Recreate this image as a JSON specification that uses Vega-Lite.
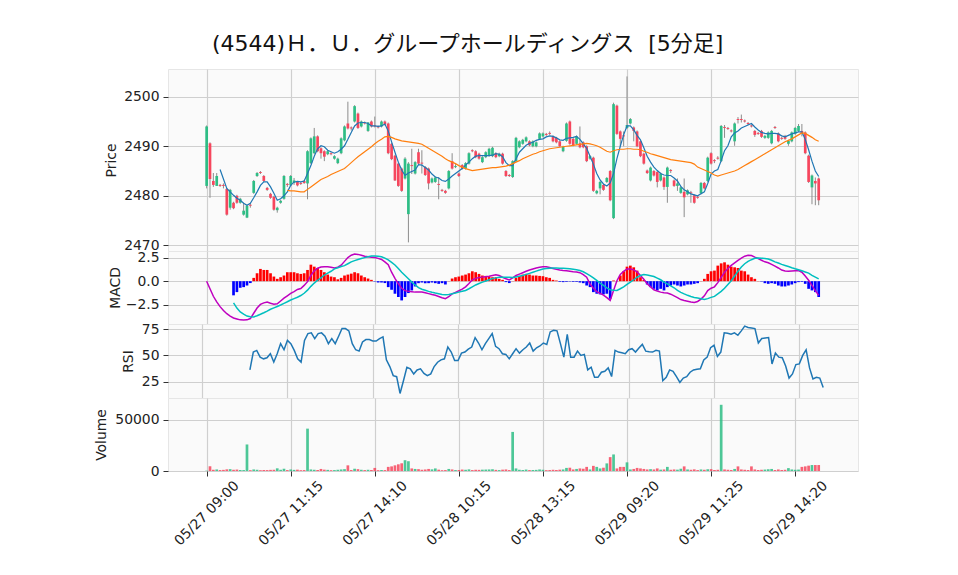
{
"$schema": "https://vega.github.io/schema/vega-lite/v6.json",
"background": "white",
"padding": {"left": 94, "top": 32, "right": 0, "bottom": 0},
"title": {"text": "(4544)Ｈ．Ｕ．グループホールディングス \u00a0[5分足]", "font": "DejaVu Sans, Noto Sans CJK JP", "fontSize": 22, "fontWeight": "normal", "color": "#111", "anchor": "start", "frame": "group", "dx": 44, "offset": 13},
"config": {
  "view": {"fill": "#fafafa", "stroke": "#e6e6e6"},
  "axis": {"labelFont": "DejaVu Sans", "titleFont": "DejaVu Sans", "labelFontSize": 13.9, "titleFontSize": 13.9, "titleFontWeight": "normal", "labelColor": "#222", "titleColor": "#222", "gridColor": "#cfcfcf", "gridWidth": 1.2, "domain": false, "tickColor": "#333", "tickSize": 5, "labelPadding": 4, "titlePadding": 4, "labelOverlap": false}
},
"datasets": {"d": [
{"i":0,"o":2482,"h":2494.2,"l":2481.5,"c":2494,"v":300,"macd":0.0},
{"i":1,"o":2490.6,"h":2490.8,"l":2479.6,"c":2483.4,"v":4600,"macd":-0.8},
{"i":2,"o":2483,"h":2484.6,"l":2481.8,"c":2482.2,"v":1200,"macd":-1.6},
{"i":3,"o":2482,"h":2484.6,"l":2482,"c":2484,"v":1500,"macd":-2.2},
{"i":4,"o":2482.2,"h":2482.4,"l":2481.8,"c":2482,"v":900,"ma5":2485.3,"macd":-2.7},
{"i":5,"o":2482.2,"h":2482.5,"l":2481.5,"c":2482,"v":1100,"ma5":2483.4,"macd":-3.1},
{"i":6,"o":2481.4,"h":2481.6,"l":2476,"c":2476.2,"v":1600,"ma5":2481.5,"macd":-3.45},
{"i":7,"o":2477.6,"h":2481.4,"l":2477.2,"c":2481.2,"v":1800,"ma5":2480.8,"macd":-3.7},
{"i":8,"o":2478.6,"h":2478.8,"l":2477.3,"c":2477.5,"v":1200,"ma5":2480.1,"macd":-3.9,"signal":-2.3,"hist":-1.5},
{"i":9,"o":2480,"h":2480.2,"l":2478.4,"c":2478.6,"v":1400,"ma5":2479.5,"macd":-4.0,"signal":-2.85,"hist":-1.16},
{"i":10,"o":2478.6,"h":2479.6,"l":2478.4,"c":2479.4,"v":1000,"ma5":2479.1,"macd":-4.1,"signal":-3.26,"hist":-0.7},
{"i":11,"o":2476.2,"h":2478.6,"l":2476,"c":2477,"v":900,"ma5":2478.5,"macd":-4.12,"signal":-3.5,"hist":-0.63},
{"i":12,"o":2475.6,"h":2478.2,"l":2475.5,"c":2478,"v":25800,"ma5":2478.1,"macd":-4.1,"signal":-3.7,"hist":-0.46},
{"i":13,"o":2478.2,"h":2478.6,"l":2477.6,"c":2478,"v":800,"ma5":2478.5,"macd":-3.96,"signal":-3.77,"hist":-0.2},
{"i":14,"o":2480.6,"h":2483.2,"l":2480.4,"c":2483,"v":1500,"ma5":2479.6,"macd":-3.4,"signal":-3.79,"hist":0.35,"rsi":36.3},
{"i":15,"o":2484,"h":2484.8,"l":2483.8,"c":2484.6,"v":1200,"ma5":2480.8,"macd":-2.85,"signal":-3.66,"hist":0.84,"rsi":53.2},
{"i":16,"o":2484.8,"h":2485,"l":2484.4,"c":2484.6,"v":800,"ma5":2482.1,"macd":-2.46,"signal":-3.51,"hist":1.3,"rsi":54.8},
{"i":17,"o":2484,"h":2484.2,"l":2482.8,"c":2483,"v":1000,"ma5":2482.8,"macd":-2.3,"signal":-3.35,"hist":1.19,"rsi":48.4},
{"i":18,"o":2481.6,"h":2481.8,"l":2481,"c":2481.2,"v":900,"ma5":2482.8,"macd":-2.21,"signal":-3.18,"hist":1.19,"rsi":46.8},
{"i":19,"o":2480.4,"h":2480.6,"l":2479.4,"c":2479.6,"v":1100,"ma5":2481.8,"macd":-2.34,"signal":-2.98,"hist":0.84,"rsi":47.8},
{"i":20,"o":2479.8,"h":2480,"l":2477,"c":2477.2,"v":1200,"ma5":2480.5,"macd":-2.44,"signal":-2.83,"hist":0.49,"rsi":51.6},
{"i":21,"o":2477.1,"h":2477.8,"l":2476.6,"c":2477.6,"v":2600,"ma5":2479.1,"macd":-2.4,"signal":-2.68,"hist":0.25,"rsi":43.7},
{"i":22,"o":2478.6,"h":2479.2,"l":2478.4,"c":2479,"v":1200,"ma5":2479.4,"macd":-2.1,"signal":-2.52,"hist":0.42,"rsi":51.6},
{"i":23,"o":2479.4,"h":2484.2,"l":2479.2,"c":2484,"v":2200,"ma5":2480.0,"macd":-1.8,"signal":-2.35,"hist":0.6,"rsi":61.2},
{"i":24,"o":2482.4,"h":2482.6,"l":2481.8,"c":2482.2,"v":900,"ma5":2480.8,"ma25":2481.1,"macd":-1.55,"signal":-2.18,"hist":0.95,"rsi":55.4},
{"i":25,"o":2482.1,"h":2484.2,"l":2482,"c":2484,"v":1500,"ma5":2482.1,"ma25":2481.0,"macd":-1.3,"signal":-2.0,"hist":0.95,"rsi":64.3},
{"i":26,"o":2482.6,"h":2483.6,"l":2482.2,"c":2483.1,"v":1100,"ma5":2482.8,"ma25":2481.0,"macd":-1.1,"signal":-1.85,"hist":0.95,"rsi":61.2},
{"i":27,"o":2482.8,"h":2483,"l":2481.9,"c":2482.1,"v":1300,"ma5":2482.9,"ma25":2480.9,"macd":-0.88,"signal":-1.7,"hist":0.84,"rsi":54.8},
{"i":28,"o":2482.6,"h":2482.8,"l":2482.2,"c":2482.4,"v":800,"ma5":2482.8,"ma25":2480.8,"macd":-0.78,"signal":-1.52,"hist":0.77,"rsi":46.8},
{"i":29,"o":2483,"h":2483.2,"l":2482.4,"c":2482.6,"v":900,"ma5":2483.0,"ma25":2480.8,"macd":-0.45,"signal":-1.28,"hist":0.84,"rsi":43.7},
{"i":30,"o":2482.5,"h":2489.2,"l":2479.3,"c":2489,"v":41200,"ma5":2484.5,"ma25":2481.3,"macd":-0.05,"signal":-0.95,"hist":1.19,"rsi":64.3},
{"i":31,"o":2486.6,"h":2491.8,"l":2486.4,"c":2491.6,"v":1500,"ma5":2486.1,"ma25":2481.8,"macd":0.6,"signal":-0.55,"hist":1.75,"rsi":70.7},
{"i":32,"o":2488.6,"h":2493.7,"l":2488.4,"c":2492,"v":1200,"ma5":2488.0,"ma25":2482.3,"macd":1.1,"signal":-0.2,"hist":1.54,"rsi":71.4},
{"i":33,"o":2492,"h":2492.2,"l":2488.8,"c":2489,"v":1000,"ma5":2489.5,"ma25":2482.8,"macd":1.38,"signal":0.1,"hist":1.4,"rsi":66},
{"i":34,"o":2489.6,"h":2489.8,"l":2487.5,"c":2488.6,"v":2000,"ma5":2490.1,"ma25":2483.3,"macd":1.5,"signal":0.35,"hist":1.19,"rsi":70.7},
{"i":35,"o":2489,"h":2489.2,"l":2487,"c":2487.9,"v":1300,"ma5":2489.9,"ma25":2483.6,"macd":1.54,"signal":0.65,"hist":0.95,"rsi":71.4},
{"i":36,"o":2488.4,"h":2489.2,"l":2488.2,"c":2489,"v":1100,"ma5":2489.2,"ma25":2483.9,"macd":1.54,"signal":0.85,"hist":0.7,"rsi":68.2},
{"i":37,"o":2488.6,"h":2488.8,"l":2488.2,"c":2488.4,"v":800,"ma5":2488.9,"ma25":2484.3,"macd":1.48,"signal":1.05,"hist":0.49,"rsi":61.2},
{"i":38,"o":2487.5,"h":2488.2,"l":2487.3,"c":2488,"v":900,"ma5":2488.6,"ma25":2484.6,"macd":1.4,"signal":1.3,"hist":0.42,"rsi":66},
{"i":39,"o":2486.6,"h":2487.7,"l":2486.4,"c":2487.5,"v":1200,"ma5":2488.9,"ma25":2484.9,"macd":1.48,"signal":1.43,"hist":0.2,"rsi":61.2},
{"i":40,"o":2488.6,"h":2491.8,"l":2488.4,"c":2491.6,"v":1500,"ma5":2489.4,"ma25":2485.2,"macd":1.7,"signal":1.55,"hist":0.35,"rsi":68.2},
{"i":41,"o":2491.2,"h":2494.2,"l":2491,"c":2494,"v":1800,"ma5":2490.1,"ma25":2485.5,"macd":2.1,"signal":1.65,"hist":0.6,"rsi":75.5},
{"i":42,"o":2494.6,"h":2499,"l":2493.4,"c":2493.6,"v":5500,"ma5":2491.4,"ma25":2486.1,"macd":2.5,"signal":1.85,"hist":0.7,"rsi":75.5},
{"i":43,"o":2493.8,"h":2494,"l":2493.2,"c":2493.6,"v":1000,"ma5":2492.8,"ma25":2486.7,"macd":2.75,"signal":2.05,"hist":0.8,"rsi":73.3},
{"i":44,"o":2495,"h":2498.3,"l":2494.8,"c":2498.1,"v":2200,"ma5":2494.1,"ma25":2487.3,"macd":2.88,"signal":2.18,"hist":0.95,"rsi":61.2},
{"i":45,"o":2496.6,"h":2496.8,"l":2493.5,"c":2493.7,"v":1800,"ma5":2494.7,"ma25":2487.9,"macd":2.84,"signal":2.3,"hist":0.84,"rsi":55.4},
{"i":46,"o":2494,"h":2495.2,"l":2493.8,"c":2495,"v":1200,"ma5":2494.8,"ma25":2488.4,"macd":2.75,"signal":2.4,"hist":0.6,"rsi":54.1},
{"i":47,"o":2494.8,"h":2495,"l":2494.4,"c":2494.6,"v":900,"ma5":2494.8,"ma25":2488.9,"macd":2.65,"signal":2.5,"hist":0.42,"rsi":62.8},
{"i":48,"o":2493.1,"h":2494.9,"l":2492.9,"c":2494.8,"v":1200,"ma5":2494.6,"ma25":2489.4,"macd":2.58,"signal":2.6,"hist":0.28,"rsi":65},
{"i":49,"o":2495,"h":2495.2,"l":2493.8,"c":2494,"v":1000,"ma5":2494.1,"ma25":2489.9,"macd":2.55,"signal":2.68,"hist":0.14,"rsi":65},
{"i":50,"o":2494.2,"h":2496,"l":2493.8,"c":2494,"v":3000,"ma5":2494.1,"ma25":2490.5,"macd":2.52,"signal":2.68,"hist":-0.04,"rsi":63.7},
{"i":51,"o":2494,"h":2494.2,"l":2493.6,"c":2493.8,"v":800,"ma5":2494.0,"ma25":2491.0,"macd":2.42,"signal":2.64,"hist":-0.14,"rsi":63.7},
{"i":52,"o":2494,"h":2495.2,"l":2493.8,"c":2495,"v":1000,"ma5":2494.1,"ma25":2491.4,"macd":2.3,"signal":2.58,"hist":-0.14,"rsi":66},
{"i":53,"o":2495,"h":2495.2,"l":2494.2,"c":2494.4,"v":900,"ma5":2494.5,"ma25":2491.9,"macd":2.05,"signal":2.45,"hist":-0.2,"rsi":67.6},
{"i":54,"o":2494.6,"h":2494.8,"l":2488.4,"c":2488.6,"v":4000,"ma5":2493.1,"ma25":2492.0,"macd":1.75,"signal":2.25,"hist":-0.63,"rsi":45.8},
{"i":55,"o":2490.5,"h":2490.7,"l":2487.2,"c":2487.4,"v":4500,"ma5":2490.9,"ma25":2491.8,"macd":0.95,"signal":2.0,"hist":-0.91,"rsi":39.5},
{"i":56,"o":2488.1,"h":2488.3,"l":2483,"c":2483.1,"v":5500,"ma5":2488.8,"ma25":2491.5,"macd":0.3,"signal":1.72,"hist":-1.33,"rsi":30.9},
{"i":57,"o":2486.5,"h":2486.7,"l":2481.8,"c":2482,"v":6500,"ma5":2486.8,"ma25":2491.3,"macd":-0.28,"signal":1.35,"hist":-1.68,"rsi":29.9},
{"i":58,"o":2485.5,"h":2485.7,"l":2480.8,"c":2481,"v":7500,"ma5":2485.2,"ma25":2491.1,"macd":-0.75,"signal":0.95,"hist":-2.04,"rsi":14},
{"i":59,"o":2483.5,"h":2487.8,"l":2483.3,"c":2487.5,"v":10500,"ma5":2484.1,"ma25":2491.0,"macd":-1.0,"signal":0.6,"hist":-1.68,"rsi":26.1},
{"i":60,"o":2476.3,"h":2486.8,"l":2470.6,"c":2486.5,"v":9500,"ma5":2484.6,"ma25":2490.9,"macd":-1.08,"signal":0.25,"hist":-1.26,"rsi":38.8},
{"i":61,"o":2486.2,"h":2489.5,"l":2484.4,"c":2486,"v":2500,"ma5":2484.9,"ma25":2490.8,"macd":-1.12,"signal":-0.1,"hist":-0.98,"rsi":37.3},
{"i":62,"o":2484.5,"h":2487,"l":2484.3,"c":2486.8,"v":2000,"ma5":2485.2,"ma25":2490.7,"macd":-1.16,"signal":-0.4,"hist":-0.56,"rsi":32.5},
{"i":63,"o":2488.8,"h":2489.5,"l":2486.3,"c":2486.5,"v":1800,"ma5":2486.3,"ma25":2490.6,"macd":-1.16,"signal":-0.68,"hist":-0.21,"rsi":36.3},
{"i":64,"o":2486.7,"h":2489.2,"l":2484.5,"c":2486.5,"v":1200,"ma5":2486.2,"ma25":2490.4,"macd":-1.16,"signal":-0.85,"hist":-0.14,"rsi":37.3},
{"i":65,"o":2485.8,"h":2486,"l":2484,"c":2484.2,"v":1500,"ma5":2485.7,"ma25":2490.0,"macd":-1.22,"signal":-0.96,"hist":-0.21,"rsi":33},
{"i":66,"o":2485.5,"h":2485.7,"l":2481.3,"c":2482.5,"v":2000,"ma5":2485.2,"ma25":2489.6,"macd":-1.32,"signal":-1.08,"hist":-0.21,"rsi":30.9},
{"i":67,"o":2482.7,"h":2483.7,"l":2482.5,"c":2483.5,"v":1600,"ma5":2484.4,"ma25":2489.2,"macd":-1.42,"signal":-1.18,"hist":-0.14,"rsi":32.5},
{"i":68,"o":2482.8,"h":2483.9,"l":2482.6,"c":2483.7,"v":2500,"ma5":2483.8,"ma25":2488.8,"macd":-1.5,"signal":-1.26,"hist":-0.21,"rsi":39.5},
{"i":69,"o":2482.4,"h":2483.8,"l":2479.3,"c":2482.2,"v":1300,"ma5":2483.6,"ma25":2488.4,"macd":-1.62,"signal":-1.33,"hist":-0.28,"rsi":43.6},
{"i":70,"o":2481.2,"h":2481.4,"l":2480.8,"c":2481,"v":800,"ma5":2483.1,"ma25":2488.0,"macd":-1.75,"signal":-1.4,"hist":-0.21,"rsi":45.8},
{"i":71,"o":2481,"h":2481.2,"l":2480.4,"c":2480.6,"v":900,"ma5":2482.9,"ma25":2487.5,"macd":-1.86,"signal":-1.44,"hist":-0.35,"rsi":46.8},
{"i":72,"o":2481.5,"h":2485.2,"l":2481.3,"c":2485,"v":2000,"ma5":2483.4,"ma25":2487.1,"macd":-1.65,"signal":-1.4,"hist":0.02,"rsi":58},
{"i":73,"o":2487,"h":2488.6,"l":2485.3,"c":2485.5,"v":1500,"ma5":2484.0,"ma25":2486.8,"macd":-1.35,"signal":-1.33,"hist":0.28,"rsi":53.2},
{"i":74,"o":2485.8,"h":2486.4,"l":2485.6,"c":2486,"v":900,"ma5":2484.5,"ma25":2486.5,"macd":-1.18,"signal":-1.26,"hist":0.42,"rsi":45.2},
{"i":75,"o":2484.5,"h":2484.7,"l":2483.8,"c":2484,"v":1000,"ma5":2485.0,"ma25":2486.1,"macd":-1.02,"signal":-1.16,"hist":0.49,"rsi":45.2},
{"i":76,"o":2486.2,"h":2486.4,"l":2485.3,"c":2485.5,"v":1400,"ma5":2485.5,"ma25":2485.8,"macd":-0.85,"signal":-1.07,"hist":0.6,"rsi":52.2},
{"i":77,"o":2485.5,"h":2486.8,"l":2485.3,"c":2486.6,"v":1200,"ma5":2486.2,"ma25":2485.5,"macd":-0.6,"signal":-0.98,"hist":0.7,"rsi":53.2},
{"i":78,"o":2486.5,"h":2488.8,"l":2486.3,"c":2488.6,"v":1600,"ma5":2486.8,"ma25":2485.3,"macd":-0.25,"signal":-0.8,"hist":0.84,"rsi":56},
{"i":79,"o":2489.2,"h":2489.4,"l":2488.8,"c":2489,"v":900,"ma5":2487.5,"ma25":2485.1,"macd":0.15,"signal":-0.6,"hist":1.05,"rsi":58},
{"i":80,"o":2489,"h":2489.2,"l":2487.6,"c":2487.8,"v":1200,"ma5":2488.0,"ma25":2485.2,"macd":0.3,"signal":-0.4,"hist":0.95,"rsi":66.9},
{"i":81,"o":2488.5,"h":2488.7,"l":2487.3,"c":2487.5,"v":1100,"ma5":2488.1,"ma25":2485.3,"macd":0.38,"signal":-0.25,"hist":0.77,"rsi":61.8},
{"i":82,"o":2486.8,"h":2488,"l":2486.6,"c":2487.8,"v":1300,"ma5":2488.1,"ma25":2485.4,"macd":0.43,"signal":-0.1,"hist":0.6,"rsi":55.4},
{"i":83,"o":2487.8,"h":2489,"l":2487.6,"c":2488.8,"v":1400,"ma5":2488.1,"ma25":2485.5,"macd":0.48,"signal":0.02,"hist":0.56,"rsi":61.2},
{"i":84,"o":2488.1,"h":2489.7,"l":2487.9,"c":2489.5,"v":1500,"ma5":2488.1,"ma25":2485.6,"macd":0.53,"signal":0.15,"hist":0.49,"rsi":66},
{"i":85,"o":2488,"h":2489.9,"l":2487.8,"c":2489.7,"v":1700,"ma5":2488.2,"ma25":2485.7,"macd":0.6,"signal":0.27,"hist":0.42,"rsi":70.7},
{"i":86,"o":2488.6,"h":2488.8,"l":2487.6,"c":2487.8,"v":1100,"ma5":2488.5,"ma25":2485.7,"macd":0.67,"signal":0.35,"hist":0.42,"rsi":58.6},
{"i":87,"o":2488,"h":2488.7,"l":2487.8,"c":2488.5,"v":900,"ma5":2488.4,"ma25":2485.8,"macd":0.6,"signal":0.42,"hist":0.25,"rsi":56.4},
{"i":88,"o":2488.5,"h":2488.7,"l":2486.3,"c":2486.5,"v":1300,"ma5":2487.9,"ma25":2485.9,"macd":0.42,"signal":0.42,"hist":0.14,"rsi":51.6},
{"i":89,"o":2485,"h":2485.2,"l":2483.8,"c":2484,"v":1500,"ma5":2486.7,"ma25":2486.0,"macd":0.25,"signal":0.42,"hist":-0.1,"rsi":51},
{"i":90,"o":2484.2,"h":2484.4,"l":2483.8,"c":2484,"v":900,"ma5":2486.1,"ma25":2486.2,"macd":0.14,"signal":0.42,"hist":-0.2,"rsi":46.8},
{"i":91,"o":2483.8,"h":2487.2,"l":2483.6,"c":2487,"v":38000,"ma5":2486.1,"ma25":2486.5,"macd":0.35,"signal":0.38,"hist":0.02,"rsi":51.6},
{"i":92,"o":2487,"h":2491.9,"l":2486.8,"c":2491.7,"v":2500,"ma5":2487.5,"ma25":2486.8,"macd":0.6,"signal":0.45,"hist":0.35,"rsi":56.4},
{"i":93,"o":2489.8,"h":2491.2,"l":2489.6,"c":2491,"v":1200,"ma5":2488.8,"ma25":2487.1,"macd":0.75,"signal":0.52,"hist":0.56,"rsi":52.2},
{"i":94,"o":2490.5,"h":2491.5,"l":2490.3,"c":2491.3,"v":1000,"ma5":2489.5,"ma25":2487.5,"macd":0.9,"signal":0.6,"hist":0.7,"rsi":55.4},
{"i":95,"o":2491,"h":2492,"l":2490.8,"c":2491.8,"v":1400,"ma5":2490.2,"ma25":2487.8,"macd":1.05,"signal":0.72,"hist":0.77,"rsi":58},
{"i":96,"o":2491,"h":2491.2,"l":2490,"c":2490.2,"v":900,"ma5":2490.6,"ma25":2488.1,"macd":1.19,"signal":0.83,"hist":0.7,"rsi":61.8},
{"i":97,"o":2490,"h":2491.2,"l":2489.8,"c":2491,"v":1000,"ma5":2490.8,"ma25":2488.4,"macd":1.3,"signal":0.95,"hist":0.6,"rsi":54.1},
{"i":98,"o":2490,"h":2491,"l":2489.8,"c":2490.8,"v":1100,"ma5":2491.2,"ma25":2488.6,"macd":1.4,"signal":1.07,"hist":0.6,"rsi":57.3},
{"i":99,"o":2491.5,"h":2492.8,"l":2491.3,"c":2492.6,"v":1500,"ma5":2491.4,"ma25":2488.9,"macd":1.47,"signal":1.18,"hist":0.56,"rsi":59},
{"i":100,"o":2492,"h":2492.8,"l":2491.8,"c":2492.6,"v":1200,"ma5":2491.5,"ma25":2489.1,"macd":1.52,"signal":1.3,"hist":0.53,"rsi":61.8},
{"i":101,"o":2492.5,"h":2492.7,"l":2492.1,"c":2492.3,"v":800,"ma5":2491.9,"ma25":2489.3,"macd":1.52,"signal":1.34,"hist":0.42,"rsi":60.5},
{"i":102,"o":2492.7,"h":2493,"l":2492.3,"c":2492.5,"v":900,"ma5":2492.1,"ma25":2489.5,"macd":1.45,"signal":1.38,"hist":0.35,"rsi":72.3},
{"i":103,"o":2492,"h":2492.2,"l":2490.8,"c":2491,"v":1200,"ma5":2492.0,"ma25":2489.6,"macd":1.35,"signal":1.4,"hist":0.14,"rsi":73.9},
{"i":104,"o":2491.7,"h":2491.9,"l":2490.6,"c":2490.8,"v":1000,"ma5":2491.7,"ma25":2489.7,"macd":1.25,"signal":1.39,"hist":0.07,"rsi":73.3},
{"i":105,"o":2491,"h":2491.2,"l":2489.8,"c":2490,"v":1300,"ma5":2491.3,"ma25":2489.8,"macd":1.19,"signal":1.38,"hist":-0.07,"rsi":61.2},
{"i":106,"o":2489,"h":2490.1,"l":2488.8,"c":2489.9,"v":1500,"ma5":2491.2,"ma25":2489.9,"macd":1.14,"signal":1.36,"hist":-0.1,"rsi":48.4},
{"i":107,"o":2491.1,"h":2494.8,"l":2490.9,"c":2494.6,"v":3000,"ma5":2491.6,"ma25":2490.0,"macd":1.1,"signal":1.34,"hist":-0.07,"rsi":70.1},
{"i":108,"o":2495,"h":2495.2,"l":2490.3,"c":2490.5,"v":3200,"ma5":2491.7,"ma25":2490.1,"macd":1.06,"signal":1.31,"hist":-0.04,"rsi":48.4},
{"i":109,"o":2491.5,"h":2491.7,"l":2490,"c":2490.2,"v":1500,"ma5":2491.8,"ma25":2490.2,"macd":1.0,"signal":1.27,"hist":-0.07,"rsi":48.4},
{"i":110,"o":2490.5,"h":2492.2,"l":2490.3,"c":2492,"v":2000,"ma5":2492.0,"ma25":2490.3,"macd":0.97,"signal":1.22,"hist":-0.07,"rsi":54.1},
{"i":111,"o":2490.6,"h":2494,"l":2489.6,"c":2489.8,"v":2500,"ma5":2491.4,"ma25":2490.4,"macd":0.9,"signal":1.14,"hist":-0.14,"rsi":50},
{"i":112,"o":2490.8,"h":2491,"l":2489.6,"c":2489.8,"v":2200,"ma5":2490.5,"ma25":2490.5,"macd":0.7,"signal":1.0,"hist":-0.21,"rsi":51},
{"i":113,"o":2490,"h":2490.2,"l":2486.8,"c":2487,"v":4000,"ma5":2489.6,"ma25":2490.6,"macd":0.42,"signal":0.8,"hist":-0.46,"rsi":36.3},
{"i":114,"o":2487.5,"h":2488.2,"l":2487.3,"c":2488,"v":1500,"ma5":2488.0,"ma25":2490.5,"macd":-0.3,"signal":0.6,"hist":-0.63,"rsi":38.8},
{"i":115,"o":2487.7,"h":2487.9,"l":2480.8,"c":2481,"v":5000,"ma5":2486.4,"ma25":2490.3,"macd":-0.75,"signal":0.35,"hist":-1.16,"rsi":29.3},
{"i":116,"o":2480.5,"h":2481.2,"l":2480.3,"c":2481,"v":4000,"ma5":2484.5,"ma25":2490.1,"macd":-1.1,"signal":0.08,"hist":-1.33,"rsi":29.3},
{"i":117,"o":2481.5,"h":2483,"l":2480.3,"c":2482.8,"v":2500,"ma5":2483.2,"ma25":2489.8,"macd":-1.3,"signal":-0.2,"hist":-1.4,"rsi":34.1},
{"i":118,"o":2482.2,"h":2482.4,"l":2481,"c":2481.2,"v":3200,"ma5":2482.4,"ma25":2489.4,"macd":-1.48,"signal":-0.45,"hist":-1.4,"rsi":35},
{"i":119,"o":2482.8,"h":2483.8,"l":2482.6,"c":2483.6,"v":7400,"ma5":2482.0,"ma25":2489.0,"macd":-1.75,"signal":-0.7,"hist":-1.33,"rsi":38.2},
{"i":120,"o":2485,"h":2485.2,"l":2478.9,"c":2479.1,"v":13500,"ma5":2482.6,"ma25":2488.8,"macd":-2.04,"signal":-0.9,"hist":-1.86,"rsi":30},
{"i":121,"o":2475.5,"h":2498.8,"l":2475.3,"c":2498.5,"v":16100,"ma5":2484.5,"ma25":2489.1,"macd":-0.98,"signal":-0.95,"hist":0.07,"rsi":54.8},
{"i":122,"o":2498.2,"h":2498.4,"l":2492.3,"c":2492.5,"v":2500,"ma5":2487.5,"ma25":2489.3,"macd":0.05,"signal":-0.98,"hist":0.02,"rsi":53.2},
{"i":123,"o":2493,"h":2493.2,"l":2490,"c":2491.5,"v":4000,"ma5":2490.0,"ma25":2489.4,"macd":0.7,"signal":-0.8,"hist":0.6,"rsi":52.5},
{"i":124,"o":2492.2,"h":2493,"l":2490,"c":2492,"v":4000,"ma5":2492.3,"ma25":2489.4,"macd":1.05,"signal":-0.6,"hist":1.05,"rsi":51.6},
{"i":125,"o":2493.7,"h":2504.1,"l":2493.5,"c":2494.3,"v":8400,"ma5":2494.1,"ma25":2489.5,"macd":1.3,"signal":-0.35,"hist":1.54,"rsi":55.4},
{"i":126,"o":2494.6,"h":2495.7,"l":2494.4,"c":2495.5,"v":1500,"ma5":2494.1,"ma25":2489.5,"macd":1.3,"signal":-0.1,"hist":1.65,"rsi":56.4},
{"i":127,"o":2493.8,"h":2494,"l":2491,"c":2493.1,"v":2000,"ma5":2493.3,"ma25":2489.4,"macd":1.2,"signal":0.15,"hist":1.47,"rsi":53.2},
{"i":128,"o":2493,"h":2493.2,"l":2489.8,"c":2490,"v":3000,"ma5":2492.2,"ma25":2489.4,"macd":0.98,"signal":0.42,"hist":1.12,"rsi":57},
{"i":129,"o":2491,"h":2491.2,"l":2487.8,"c":2488,"v":2500,"ma5":2491.3,"ma25":2489.3,"macd":0.6,"signal":0.6,"hist":0.42,"rsi":60.5},
{"i":130,"o":2488.5,"h":2488.7,"l":2486.3,"c":2486.5,"v":2000,"ma5":2489.7,"ma25":2489.0,"macd":0.2,"signal":0.7,"hist":0.14,"rsi":54.1},
{"i":131,"o":2485.1,"h":2485.3,"l":2484.4,"c":2484.6,"v":1500,"ma5":2488.0,"ma25":2488.8,"macd":-0.28,"signal":0.66,"hist":-0.35,"rsi":53.5},
{"i":132,"o":2483.1,"h":2485.9,"l":2482.9,"c":2485.7,"v":1800,"ma5":2486.8,"ma25":2488.5,"macd":-0.6,"signal":0.58,"hist":-0.63,"rsi":53.2},
{"i":133,"o":2485,"h":2485.2,"l":2483.9,"c":2484.1,"v":1500,"ma5":2485.8,"ma25":2488.3,"macd":-0.91,"signal":0.49,"hist":-0.81,"rsi":54.8},
{"i":134,"o":2484.8,"h":2485,"l":2481.7,"c":2482.8,"v":2500,"ma5":2485.1,"ma25":2488.1,"macd":-1.05,"signal":0.32,"hist":-0.98,"rsi":54.1},
{"i":135,"o":2483.1,"h":2484.7,"l":2482.9,"c":2484.5,"v":1300,"ma5":2484.5,"ma25":2487.9,"macd":-1.16,"signal":0.15,"hist":-0.81,"rsi":26.1},
{"i":136,"o":2483.7,"h":2483.9,"l":2481.2,"c":2481.8,"v":1500,"ma5":2484.2,"ma25":2487.7,"macd":-1.22,"signal":-0.1,"hist":-0.98,"rsi":29.3},
{"i":137,"o":2481.8,"h":2485.9,"l":2478.6,"c":2485.7,"v":4000,"ma5":2484.1,"ma25":2487.5,"macd":-1.26,"signal":-0.28,"hist":-0.63,"rsi":36.3},
{"i":138,"o":2485.2,"h":2485.4,"l":2484.6,"c":2485,"v":1200,"ma5":2484.1,"ma25":2487.3,"macd":-1.38,"signal":-0.5,"hist":-0.46,"rsi":35},
{"i":139,"o":2483.1,"h":2483.3,"l":2481.8,"c":2482,"v":1500,"ma5":2483.6,"ma25":2487.2,"macd":-1.55,"signal":-0.7,"hist":-0.35,"rsi":30},
{"i":140,"o":2482,"h":2483.5,"l":2481,"c":2482.5,"v":1300,"ma5":2483.0,"ma25":2487.1,"macd":-1.75,"signal":-0.98,"hist":-0.46,"rsi":24.5},
{"i":141,"o":2480.6,"h":2481.9,"l":2480.4,"c":2481.7,"v":2200,"ma5":2481.9,"ma25":2487.0,"macd":-1.95,"signal":-1.18,"hist":-0.56,"rsi":28.6},
{"i":142,"o":2480.8,"h":2483.5,"l":2475.7,"c":2479.7,"v":4500,"ma5":2481.2,"ma25":2486.9,"macd":-2.05,"signal":-1.35,"hist":-0.46,"rsi":29.9},
{"i":143,"o":2480.3,"h":2481.3,"l":2480.1,"c":2481.1,"v":1500,"ma5":2480.8,"ma25":2486.8,"macd":-2.12,"signal":-1.5,"hist":-0.35,"rsi":34.1},
{"i":144,"o":2480.7,"h":2481,"l":2478.6,"c":2480.5,"v":1200,"ma5":2480.4,"ma25":2486.7,"macd":-2.2,"signal":-1.62,"hist":-0.35,"rsi":36.3},
{"i":145,"o":2480.1,"h":2480.3,"l":2478.4,"c":2478.6,"v":1600,"ma5":2480.2,"ma25":2486.4,"macd":-2.25,"signal":-1.72,"hist":-0.28,"rsi":37},
{"i":146,"o":2479.8,"h":2480,"l":2479.4,"c":2479.6,"v":900,"ma5":2480.0,"ma25":2485.8,"macd":-2.15,"signal":-1.79,"hist":-0.21,"rsi":37.3},
{"i":147,"o":2480.5,"h":2482.8,"l":2480.3,"c":2482.6,"v":1500,"ma5":2480.4,"ma25":2485.5,"macd":-1.9,"signal":-1.86,"hist":0.02,"rsi":45.8},
{"i":148,"o":2482.6,"h":2482.8,"l":2481.3,"c":2481.5,"v":1200,"ma5":2480.8,"ma25":2485.2,"macd":-1.55,"signal":-1.94,"hist":0.25,"rsi":48.4},
{"i":149,"o":2483,"h":2487.9,"l":2482.8,"c":2487.7,"v":1700,"ma5":2482.5,"ma25":2484.9,"macd":-1.0,"signal":-1.85,"hist":0.77,"rsi":57.3},
{"i":150,"o":2488.6,"h":2488.8,"l":2486.3,"c":2486.5,"v":1800,"ma5":2484.4,"ma25":2484.6,"macd":-0.75,"signal":-1.72,"hist":1.05,"rsi":59.6},
{"i":151,"o":2487.2,"h":2487.4,"l":2486.6,"c":2487,"v":1000,"ma5":2485.0,"ma25":2484.2,"macd":-0.6,"signal":-1.61,"hist":1.12,"rsi":49},
{"i":152,"o":2487.7,"h":2488,"l":2487.3,"c":2487.5,"v":1200,"ma5":2485.3,"ma25":2484.0,"macd":-0.15,"signal":-1.35,"hist":1.65,"rsi":53.2},
{"i":153,"o":2487,"h":2494.3,"l":2486.8,"c":2494.1,"v":64400,"ma5":2487.1,"ma25":2484.2,"macd":0.4,"signal":-1.08,"hist":1.89,"rsi":71.4},
{"i":154,"o":2493.9,"h":2494.3,"l":2491.7,"c":2493.7,"v":1500,"ma5":2489.1,"ma25":2484.4,"macd":0.95,"signal":-0.75,"hist":2.0,"rsi":71},
{"i":155,"o":2493.7,"h":2493.9,"l":2493.3,"c":2493.5,"v":1200,"ma5":2490.1,"ma25":2484.6,"macd":1.35,"signal":-0.35,"hist":1.75,"rsi":70.1},
{"i":156,"o":2493.2,"h":2493.4,"l":2492.8,"c":2493,"v":1000,"ma5":2491.9,"ma25":2484.8,"macd":1.68,"signal":0.05,"hist":1.54,"rsi":71.4},
{"i":157,"o":2491,"h":2494.8,"l":2490.1,"c":2494.6,"v":2000,"ma5":2492.7,"ma25":2485.0,"macd":1.95,"signal":0.55,"hist":1.47,"rsi":69.1},
{"i":158,"o":2495.5,"h":2495.9,"l":2494.6,"c":2495.3,"v":4500,"ma5":2493.1,"ma25":2485.3,"macd":2.2,"signal":1.05,"hist":1.4,"rsi":73.3},
{"i":159,"o":2495.5,"h":2496.4,"l":2494.8,"c":2495.3,"v":1500,"ma5":2493.7,"ma25":2485.7,"macd":2.45,"signal":1.5,"hist":1.12,"rsi":77.8},
{"i":160,"o":2495.2,"h":2495.4,"l":2494.8,"c":2495,"v":1200,"ma5":2494.0,"ma25":2486.1,"macd":2.65,"signal":1.85,"hist":1.05,"rsi":76.5},
{"i":161,"o":2494.7,"h":2494.9,"l":2494.3,"c":2494.5,"v":1000,"ma5":2494.3,"ma25":2486.5,"macd":2.75,"signal":2.1,"hist":0.7,"rsi":76},
{"i":162,"o":2494.2,"h":2494.4,"l":2493.8,"c":2494,"v":4500,"ma5":2494.6,"ma25":2486.9,"macd":2.72,"signal":2.28,"hist":0.42,"rsi":75.5},
{"i":163,"o":2493.1,"h":2493.3,"l":2491.9,"c":2492.3,"v":1500,"ma5":2493.9,"ma25":2487.3,"macd":2.55,"signal":2.42,"hist":0.25,"rsi":61.8},
{"i":164,"o":2492.7,"h":2492.9,"l":2492.3,"c":2492.5,"v":1000,"ma5":2493.3,"ma25":2487.7,"macd":2.4,"signal":2.46,"hist":0.02,"rsi":66},
{"i":165,"o":2493.1,"h":2493.3,"l":2491.7,"c":2491.9,"v":1200,"ma5":2492.8,"ma25":2488.1,"macd":2.22,"signal":2.44,"hist":-0.04,"rsi":66.5},
{"i":166,"o":2491.7,"h":2492.3,"l":2491.5,"c":2492.1,"v":1400,"ma5":2492.6,"ma25":2488.5,"macd":2.05,"signal":2.41,"hist":-0.21,"rsi":66.9},
{"i":167,"o":2491.7,"h":2493,"l":2491.5,"c":2492.8,"v":1700,"ma5":2492.5,"ma25":2488.9,"macd":1.95,"signal":2.35,"hist":-0.28,"rsi":42},
{"i":168,"o":2490.6,"h":2493.3,"l":2490.4,"c":2493.1,"v":2000,"ma5":2492.6,"ma25":2489.3,"macd":1.78,"signal":2.22,"hist":-0.21,"rsi":52.2},
{"i":169,"o":2493.9,"h":2494.1,"l":2493.5,"c":2493.7,"v":1000,"ma5":2492.6,"ma25":2489.7,"macd":1.6,"signal":2.05,"hist":-0.28,"rsi":48.4},
{"i":170,"o":2492.6,"h":2492.8,"l":2490.8,"c":2491,"v":1500,"ma5":2492.5,"ma25":2490.1,"macd":1.4,"signal":1.92,"hist":-0.46,"rsi":47.8},
{"i":171,"o":2491.7,"h":2491.9,"l":2491.3,"c":2491.5,"v":1000,"ma5":2492.1,"ma25":2490.5,"macd":1.18,"signal":1.78,"hist":-0.56,"rsi":40},
{"i":172,"o":2492.1,"h":2492.3,"l":2491.3,"c":2491.5,"v":1200,"ma5":2491.9,"ma25":2490.9,"macd":1.08,"signal":1.67,"hist":-0.56,"rsi":28.6},
{"i":173,"o":2490.5,"h":2491.3,"l":2490.1,"c":2491.1,"v":2800,"ma5":2492.2,"ma25":2491.2,"macd":1.05,"signal":1.55,"hist":-0.46,"rsi":32.5},
{"i":174,"o":2491,"h":2493,"l":2490.8,"c":2492.8,"v":1500,"ma5":2492.5,"ma25":2491.5,"macd":1.08,"signal":1.43,"hist":-0.35,"rsi":41.4},
{"i":175,"o":2492.5,"h":2493.9,"l":2492.3,"c":2493.7,"v":1200,"ma5":2492.7,"ma25":2491.9,"macd":1.1,"signal":1.32,"hist":-0.21,"rsi":42},
{"i":176,"o":2493.1,"h":2494.5,"l":2492.9,"c":2494.1,"v":1400,"ma5":2492.9,"ma25":2492.3,"macd":1.12,"signal":1.22,"hist":-0.1,"rsi":50},
{"i":177,"o":2493.1,"h":2494.5,"l":2492,"c":2492.6,"v":4000,"ma5":2492.9,"ma25":2492.7,"macd":0.95,"signal":1.1,"hist":-0.07,"rsi":55.4},
{"i":178,"o":2492.8,"h":2493,"l":2488.4,"c":2488.6,"v":4500,"ma5":2491.4,"ma25":2492.6,"macd":0.55,"signal":0.98,"hist":-0.28,"rsi":38.2},
{"i":179,"o":2488.1,"h":2488.3,"l":2482.6,"c":2482.8,"v":5200,"ma5":2489.3,"ma25":2492.2,"macd":0.1,"signal":0.85,"hist":-0.81,"rsi":27.7},
{"i":180,"o":2481.7,"h":2484.3,"l":2478.3,"c":2484.1,"v":5800,"ma5":2487.0,"ma25":2491.8,"macd":-0.45,"signal":0.62,"hist":-0.98,"rsi":29.3},
{"i":181,"o":2483,"h":2483.7,"l":2478.1,"c":2482.5,"v":5800,"ma5":2485.0,"ma25":2491.3,"macd":-1.0,"signal":0.43,"hist":-1.16,"rsi":28.6},
{"i":182,"o":2483.5,"h":2483.7,"l":2478.1,"c":2479.1,"v":5800,"ma5":2483.9,"ma25":2491.0,"macd":-1.5,"signal":0.25,"hist":-1.68,"rsi":19.7}
]},
"data": {"name": "d"},
"spacing": 0,
"bounds": "flush",
"resolve": {"scale": {"x": "independent", "y": "independent"}},
"vconcat": [
{
  "width": 690, "height": 182,
  "encoding": {"x": {"field": "i", "type": "quantitative", "scale": {"domain": [-10, 192.2], "nice": false, "zero": false}, "axis": {"values": [0,25,50,75,100,125,150,175], "labels": false, "ticks": false, "title": null, "grid": true, "tickCount": 20}}},
  "layer": [
    {"mark": {"type": "rule", "color": "#8c8c8c", "strokeWidth": 1},
     "encoding": {"y": {"field": "l", "type": "quantitative", "title": "Price", "scale": {"domain": [2468.86, 2505.6], "nice": false, "zero": false}, "axis": {"values": [2470,2480,2490,2500], "format": "d", "grid": true, "titlePadding": 5, "tickCount": 20}}, "y2": {"field": "h"}}},
    {"mark": {"type": "bar", "size": 2.7},
     "encoding": {"y": {"field": "o", "type": "quantitative", "title": "Price", "axis": {"tickCount": 20}}, "y2": {"field": "c"},
       "color": {"condition": {"test": "datum.c >= datum.o", "value": "#2ebd85"}, "value": "#f6465d"}}},
    {"mark": {"type": "line", "color": "#1f77b4", "strokeWidth": 1.2},
     "encoding": {"y": {"field": "ma5", "type": "quantitative", "title": "Price", "axis": {"tickCount": 20}}}},
    {"mark": {"type": "line", "color": "#ff7f0e", "strokeWidth": 1.2},
     "encoding": {"y": {"field": "ma25", "type": "quantitative", "title": "Price", "axis": {"tickCount": 20}}}}
  ]
},
{
  "width": 690, "height": 73,
  "encoding": {"x": {"field": "i", "type": "quantitative", "scale": {"domain": [-10, 192.2], "nice": false, "zero": false}, "axis": {"values": [0,25,50,75,100,125,150,175], "labels": false, "ticks": false, "title": null, "grid": true, "tickCount": 20}}},
  "layer": [
    {"mark": {"type": "bar", "size": 2.7},
     "encoding": {"y": {"field": "hist", "type": "quantitative", "title": "MACD", "scale": {"domain": [-4.54, 3.2], "nice": false, "zero": false}, "axis": {"values": [-2.5, 0, 2.5], "format": ".1f", "grid": true, "titlePadding": 3, "tickCount": 20}}, "y2": {"datum": 0},
       "color": {"condition": {"test": "datum.hist >= 0", "value": "#ff0000"}, "value": "#0000ff"}}},
    {"mark": {"type": "line", "color": "#bf00bf", "strokeWidth": 1.5},
     "encoding": {"y": {"field": "macd", "type": "quantitative", "title": "MACD", "axis": {"tickCount": 20}}}},
    {"mark": {"type": "line", "color": "#00bfbf", "strokeWidth": 1.5},
     "encoding": {"y": {"field": "signal", "type": "quantitative", "title": "MACD", "axis": {"tickCount": 20}}}}
  ]
},
{
  "width": 690, "height": 74,
  "mark": {"type": "line", "color": "#1f77b4", "strokeWidth": 1.5},
  "encoding": {"x": {"field": "i", "type": "quantitative", "scale": {"domain": [-10, 192.2], "nice": false, "zero": false}, "axis": {"values": [0,25,50,75,100,125,150,175], "labels": false, "ticks": false, "title": null, "grid": true, "tickCount": 20}},
    "y": {"field": "rsi", "type": "quantitative", "title": "RSI", "scale": {"domain": [9.7, 79.8], "nice": false, "zero": false}, "axis": {"values": [25, 50, 75], "format": "d", "grid": true, "titlePadding": 6, "tickCount": 20}}}
},
{
  "width": 690, "height": 73,
  "mark": {"type": "bar", "size": 2.7, "opacity": 0.85},
  "encoding": {
    "x": {"field": "i", "type": "quantitative", "scale": {"domain": [-10, 192.2], "nice": false, "zero": false},
      "axis": {"values": [0,25,50,75,100,125,150,175], "title": null, "grid": true, "labelAngle": -45, "labelAlign": "center", "labelBaseline": "middle", "labelPadding": 37, "tickSize": 5, "tickCount": 20,
        "labelExpr": "datum.value==0?'05/27 09:00':datum.value==25?'05/27 11:15':datum.value==50?'05/27 14:10':datum.value==75?'05/28 10:15':datum.value==100?'05/28 13:15':datum.value==125?'05/29 09:20':datum.value==150?'05/29 11:25':'05/29 14:20'"}},
    "y": {"field": "v", "type": "quantitative", "title": "Volume", "scale": {"domain": [0, 71000], "nice": false}, "axis": {"values": [0, 50000], "format": "d", "grid": true, "titlePadding": 6, "tickCount": 20}},
    "color": {"condition": {"test": "datum.c >= datum.o", "value": "#2ebd85"}, "value": "#f6465d"}
  }
}
]
}
